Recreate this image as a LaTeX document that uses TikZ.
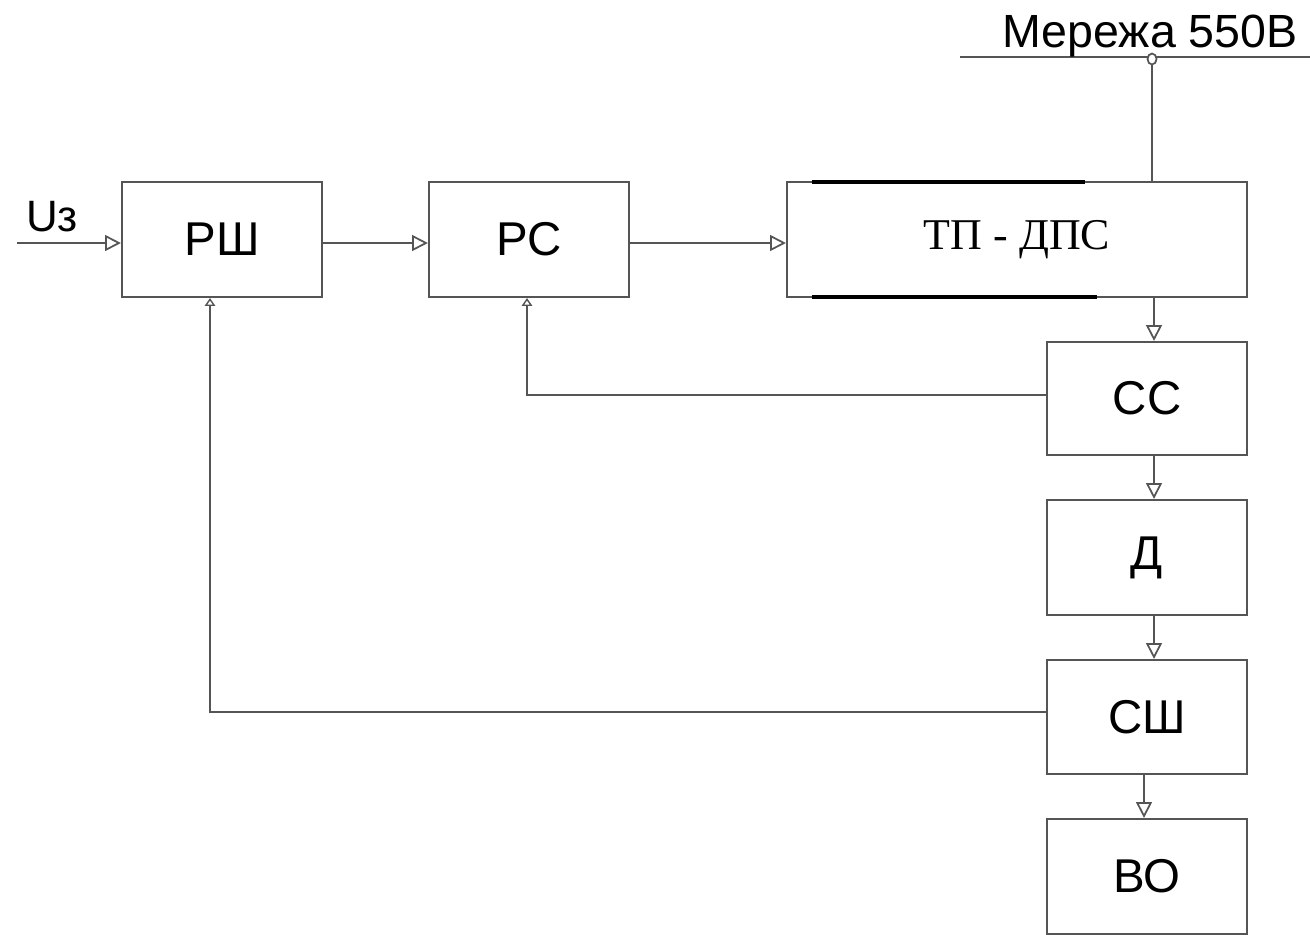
\documentclass[tikz,border=0pt]{standalone}
\usepackage{fontspec}
\setmainfont{Liberation Sans}
\newfontfamily\serifcyr{Liberation Serif}
\usetikzlibrary{arrows.meta,shapes.geometric}
\definecolor{ln}{RGB}{85,85,85}
\tikzset{
  blk/.style={draw=ln, line width=1.2pt, minimum width=200*0.02cm, inner sep=0pt, font=\fontsize{27}{30}\selectfont},
  arr/.style={draw=ln, line width=1.1pt, -{Triangle[open,length=9pt,width=9pt,line width=1pt]}},
  sarr/.style={draw=ln, line width=1.1pt, -{Triangle[open,length=4.5pt,width=6pt,line width=0.8pt]}},
  wire/.style={draw=ln, line width=1.1pt}
}
\begin{document}
\begin{tikzpicture}[x=0.02cm,y=-0.02cm]
\useasboundingbox (0,0) rectangle (1310,934);
% boxes
\node[blk, minimum height=115*0.02cm] (rsh) at (222,239.5) {РШ};
\node[blk, minimum height=115*0.02cm] (rs) at (529,239.5) {РС};
\node[blk, minimum width=460*0.02cm, minimum height=115*0.02cm, font=\serifcyr\fontsize{25}{28}\selectfont] (tp) at (1017,239.5) {ТП - ДПС};
\node[blk, minimum height=113*0.02cm] (cc) at (1147,398.5) {СС};
\node[blk, minimum height=115*0.02cm] (d) at (1147,557.5) {Д};
\node[blk, minimum height=114*0.02cm] (csh) at (1147,717) {СШ};
\node[blk, minimum height=115*0.02cm] (vo) at (1147,876.5) {ВО};
% thick segments on ТП-ДПС
\draw[black, line width=2.4pt] (812,182) -- (1085,182);
\draw[black, line width=2.4pt] (812,297) -- (1097,297);
% input
\coordinate (uin) at (17,243);
\node[font=\fontsize{25}{27}\selectfont, anchor=base] (uz) at (52,231) {Uз};
\draw[arr] (uin) -- (uin -| rsh.west);
\draw[arr] (rsh.east |- uin) -- (rs.west |- uin);
\draw[arr] (rs.east |- uin) -- (tp.west |- uin);
% vertical chain
\coordinate (cx) at (1154,0);
\coordinate (cx2) at (1144,0);
\draw[arr] (tp.south -| cx) -- (cc.north -| cx);
\draw[arr] (cc.south -| cx) -- (d.north -| cx);
\draw[arr] (d.south -| cx) -- (csh.north -| cx);
\draw[arr] (csh.south -| cx2) -- (vo.north -| cx2);
% feedback
\coordinate (fb1) at (527,395);
\coordinate (fb2) at (210,712);
\draw[sarr] (cc.west |- fb1) -- (fb1) -- (fb1 |- rs.south);
\draw[sarr] (csh.west |- fb2) -- (fb2) -- (fb2 |- rsh.south);
% mains
\coordinate (mL) at (960,57);
\coordinate (mR) at (1310,57);
\draw[wire] (mL) -- (mR);
\node[draw=ln, line width=1pt, fill=white, ellipse, minimum width=9*0.02cm, minimum height=11*0.02cm, inner sep=0pt] (tap) at (1152,59) {};
\draw[wire] (tap.south) -- (tap.south |- tp.north);
\node[font=\fontsize{26.5}{29}\selectfont, anchor=base] (net) at (1150,47) {Мережа 550В};
\end{tikzpicture}
\end{document}
